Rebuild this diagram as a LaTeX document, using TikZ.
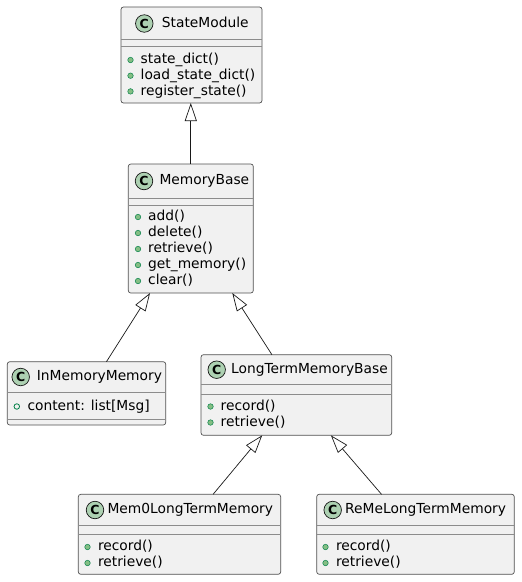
\documentclass[tikz,border=0pt]{standalone}
\usepackage{fontspec}
\setmainfont{DejaVu Sans}
\usetikzlibrary{arrows.meta,calc}
\definecolor{boxfill}{HTML}{F1F1F1}
\definecolor{boxline}{HTML}{505050}
\definecolor{sepline}{HTML}{8C8C8C}
\definecolor{iconfill}{HTML}{ADD1B2}
\definecolor{dotfill}{HTML}{84BE84}
\definecolor{dotline}{HTML}{038048}
\definecolor{edgecol}{HTML}{181818}
\tikzset{
  classbox/.style={draw=boxline, fill=boxfill, line width=0.7pt, rounded corners=2.5pt,
    anchor=north west, inner sep=0pt, outer sep=0pt},
  sepl/.style={draw=sepline, line width=0.8pt},
  txt/.style={font=\fontsize{13.8}{16}\selectfont, anchor=west, inner sep=0pt,
    text height=10.5pt, text depth=3pt, text=black},
  cicon/.style={circle, draw=edgecol, fill=iconfill, line width=0.7pt, minimum size=17.5pt,
    inner sep=0pt, font=\bfseries\fontsize{12.5}{14}\selectfont},
  pubm/.style={circle, draw=dotline, fill=dotfill, line width=0.5pt, minimum size=5.5pt, inner sep=0pt},
  pubf/.style={circle, draw=dotline, fill=none, line width=0.8pt, minimum size=5.5pt, inner sep=0pt},
  inherit/.style={draw=edgecol, line width=0.7pt, -{Triangle[open, length=18pt, width=12pt]}}
}
\begin{document}
\begin{tikzpicture}[x=1pt,y=-1pt]
\useasboundingbox (0,0) rectangle (522,582);

% StateModule
\node[classbox, minimum width=141pt, minimum height=96pt] (sm) at (121,7) {};
\node[cicon] (smi) at (144.3,23.5) {C};
\node[txt] (smt) at (161.7,23.5) {StateModule};
\draw[sepl] (sm.west |- 0,39) -- (sm.east |- 0,39);
\draw[sepl] (sm.west |- 0,46.7) -- (sm.east |- 0,46.7);
\node[pubm] (smd1) at (130.5,60) {};
\node[txt] (sm1) at (140.5,60) {state\_dict()};
\node[pubm] (smd2) at (130.5,75.7) {};
\node[txt] (sm2) at (140.5,75.7) {load\_state\_dict()};
\node[pubm] (smd3) at (130.5,91.4) {};
\node[txt] (sm3) at (140.5,91.4) {register\_state()};

% MemoryBase
\node[classbox, minimum width=125pt, minimum height=129pt] (mb) at (128.3,164) {};
\node[cicon] (mbi) at (144,181) {C};
\node[txt] (mbt) at (159.3,181) {MemoryBase};
\draw[sepl] (mb.west |- 0,198) -- (mb.east |- 0,198);
\draw[sepl] (mb.west |- 0,205.7) -- (mb.east |- 0,205.7);
\node[pubm] (mbd1) at (138,217) {};
\node[txt] (mb1) at (148,217) {add()};
\node[pubm] (mbd2) at (138,233) {};
\node[txt] (mb2) at (148,233) {delete()};
\node[pubm] (mbd3) at (138,249) {};
\node[txt] (mb3) at (148,249) {retrieve()};
\node[pubm] (mbd4) at (138,265) {};
\node[txt] (mb4) at (148,265) {get\_memory()};
\node[pubm] (mbd5) at (138,281) {};
\node[txt] (mb5) at (148,281) {clear()};

% InMemoryMemory
\node[classbox, minimum width=158.4pt, minimum height=63.3pt] (im) at (7.3,361.7) {};
\node[cicon] (imi) at (20.7,377) {C};
\node[txt] (imt) at (36.7,377) {InMemoryMemory};
\draw[sepl] (im.west |- 0,392.7) -- (im.east |- 0,392.7);
\draw[sepl] (im.west |- 0,419) -- (im.east |- 0,419);
\node[pubf] (imd1) at (16.8,406.5) {};
\node[txt] (im1) at (27.3,406.5) {content: list[Msg]};

% LongTermMemoryBase
\node[classbox, minimum width=190.7pt, minimum height=80.6pt] (lt) at (201,354.7) {};
\node[cicon] (lti) at (216.7,369.7) {C};
\node[txt] (ltt) at (231,369.7) {LongTermMemoryBase};
\draw[sepl] (lt.west |- 0,384.7) -- (lt.east |- 0,384.7);
\draw[sepl] (lt.west |- 0,394) -- (lt.east |- 0,394);
\node[pubm] (ltd1) at (210.5,406.5) {};
\node[txt] (lt1) at (220.5,406.5) {record()};
\node[pubm] (ltd2) at (210.5,422.5) {};
\node[txt] (lt2) at (220.5,422.5) {retrieve()};

% Mem0LongTermMemory
\node[classbox, minimum width=202.4pt, minimum height=80pt] (m0) at (78.3,494.3) {};
\node[cicon] (m0i) at (95,510) {C};
\node[txt] (m0t) at (107.3,510) {Mem0LongTermMemory};
\draw[sepl] (m0.west |- 0,525.7) -- (m0.east |- 0,525.7);
\draw[sepl] (m0.west |- 0,534) -- (m0.east |- 0,534);
\node[pubm] (m0d1) at (87.5,547) {};
\node[txt] (m01) at (97.8,547) {record()};
\node[pubm] (m0d2) at (87.5,563) {};
\node[txt] (m02) at (97.8,563) {retrieve()};

% ReMeLongTermMemory
\node[classbox, minimum width=197.6pt, minimum height=80pt] (rm) at (316.7,494.3) {};
\node[cicon] (rmi) at (332.7,510) {C};
\node[txt] (rmt) at (345,510) {ReMeLongTermMemory};
\draw[sepl] (rm.west |- 0,525.7) -- (rm.east |- 0,525.7);
\draw[sepl] (rm.west |- 0,534) -- (rm.east |- 0,534);
\node[pubm] (rmd1) at (325.5,547) {};
\node[txt] (rm1) at (335.8,547) {record()};
\node[pubm] (rmd2) at (325.5,563) {};
\node[txt] (rm2) at (335.8,563) {retrieve()};

% Inheritance
\draw[inherit] (mb.north) -- (mb.north |- sm.south);
\draw[inherit] ($(im.north west)!0.626!(im.north east)$) -- ($(mb.south west)!0.174!(mb.south east)$);
\draw[inherit] ($(lt.north west)!0.372!(lt.north east)$) -- ($(mb.south west)!0.832!(mb.south east)$);
\draw[inherit] ($(m0.north west)!0.666!(m0.north east)$) -- ($(lt.south west)!0.321!(lt.south east)$);
\draw[inherit] ($(rm.north west)!0.328!(rm.north east)$) -- ($(lt.south west)!0.681!(lt.south east)$);
\end{tikzpicture}
\end{document}
